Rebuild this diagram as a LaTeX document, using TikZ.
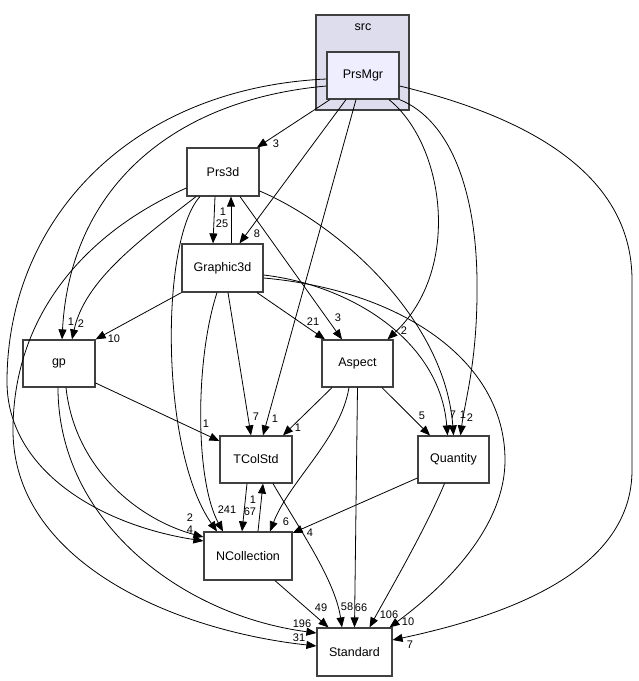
\documentclass[tikz,border=0pt]{standalone}
\usepackage{fontspec}
\setmainfont{Liberation Sans}
\usetikzlibrary{arrows.meta}
\definecolor{clusterfill}{HTML}{DDDDEE}
\definecolor{mainfill}{HTML}{EEEEFF}
\definecolor{boxline}{HTML}{404040}
\begin{document}
\begin{tikzpicture}[x=1pt,y=-1pt,
    box/.style={draw=boxline,line width=1.2pt,fill=white,inner sep=0pt,minimum height=47pt,font=\fontsize{12.5}{14}\selectfont},
    cluster/.style={draw=boxline,line width=1.2pt,fill=clusterfill,inner sep=0pt},
    dep/.style={->,line width=0.8pt},
    lbl/.style={inner sep=0pt,font=\fontsize{11}{12}\selectfont},
    >={Triangle[length=10pt,width=8pt]}
]
\useasboundingbox (0,0) rectangle (639,681);

% the src folder with PrsMgr inside
\node[cluster,minimum width=93pt,minimum height=95pt] (src) at (362.5,62.5) {};
\node[font=\fontsize{12.5}{14}\selectfont] (srctitle) at (363,27) {src};
\node[box,fill=mainfill,minimum width=72pt] (prsmgr) at (363,75.5) {PrsMgr};

\node[box,minimum width=72pt,minimum height=48pt] (prs3d) at (223,172) {Prs3d};
\node[box,minimum width=81pt,minimum height=48pt] (graphic3d) at (222.5,268) {Graphic3d};
\node[box,minimum width=72pt] (gp) at (59,363.5) {gp};
\node[box,minimum width=71pt] (aspect) at (357.5,363.5) {Aspect};
\node[box,minimum width=72pt] (tcolstd) at (256,459.5) {TColStd};
\node[box,minimum width=71pt] (quantity) at (453.5,459.5) {Quantity};
\node[box,minimum width=88pt,minimum height=48pt] (ncollection) at (248,556) {NCollection};
\node[box,minimum width=75pt,minimum height=48pt] (standard) at (354.5,652) {Standard};

% PrsMgr
\draw[dep] ([xshift=-33pt]prsmgr.south) -- ([xshift=34pt]prs3d.north);
\draw[dep] ([xshift=-17pt]prsmgr.south) -- ([xshift=17pt]graphic3d.north);
\draw[dep] ([xshift=-7pt]prsmgr.south) -- ([xshift=7pt]tcolstd.north);
\draw[dep] ([xshift=26pt]prsmgr.south) .. controls (445,145) and (462,270) .. ([xshift=30pt]aspect.north);
\draw[dep] (prsmgr.south east) .. controls (450,120) and (476,190) .. (477,280) .. controls (478,360) and (465,400) .. ([xshift=7pt]quantity.north);
\draw[dep] ([yshift=-10.5pt]prsmgr.east) .. controls (520,115) and (632,170) .. (632,280) -- (632,470) .. controls (632,570) and (510,615) .. ([yshift=12pt]standard.east);
\draw[dep] ([yshift=-10.5pt]prsmgr.west) .. controls (170,100) and (70,190) .. ([xshift=3pt]gp.north);
\draw[dep] ([yshift=-3.5pt]prsmgr.west) .. controls (130,88) and (8,220) .. (7,380) .. controls (6,470) and (100,525) .. ([yshift=15pt]ncollection.west);

% Prs3d
\draw[dep] ([xshift=-8pt]prs3d.south) -- ([xshift=-9.5pt]graphic3d.north);
\draw[dep] ([xshift=-27pt]prs3d.south) .. controls (140,240) and (85,280) .. ([xshift=13pt]gp.north);
\draw[dep] ([xshift=-23pt]prs3d.south) .. controls (160,240) and (160,450) .. ([xshift=-31pt]ncollection.north);
\draw[dep] ([xshift=17pt]prs3d.south) -- ([xshift=-15.5pt]aspect.north);
\draw[dep] ([yshift=-19pt]prs3d.east) .. controls (340,225) and (445,320) .. (quantity.north);
\draw[dep] ([yshift=-16pt]prs3d.west) .. controls (80,235) and (13,320) .. (13,430) .. controls (13,560) and (170,630) .. ([yshift=6pt]standard.west);

% Graphic3d
\draw[dep] ([xshift=8.5pt]graphic3d.north) -- ([xshift=8pt]prs3d.south);
\draw[dep] (graphic3d.south west) -- (gp.north east);
\draw[dep] ([xshift=-5.5pt]graphic3d.south) .. controls (195,360) and (195,480) .. ([xshift=-25pt]ncollection.north);
\draw[dep] ([xshift=5.5pt]graphic3d.south) -- ([xshift=-5pt]tcolstd.north);
\draw[dep] ([xshift=34.5pt]graphic3d.south) -- ([xshift=-32.5pt]aspect.north);
\draw[dep] ([yshift=-7pt]graphic3d.east) .. controls (350,285) and (440,340) .. ([xshift=-6pt]quantity.north);
\draw[dep] ([yshift=-10pt]graphic3d.east) .. controls (400,290) and (505,360) .. (505,460) .. controls (505,530) and (440,590) .. ([xshift=35pt]standard.north);

% gp
\draw[dep] ([yshift=-19.5pt]gp.east) -- ([yshift=18.5pt]tcolstd.west);
\draw[dep] ([xshift=7pt]gp.south) .. controls (75,470) and (140,520) .. ([yshift=19pt]ncollection.west);
\draw[dep] ([xshift=-1pt]gp.south) .. controls (58,520) and (180,615) .. ([yshift=19pt]standard.west);

% Aspect
\draw[dep] ([xshift=-25.5pt]aspect.south) -- ([xshift=27pt]tcolstd.north);
\draw[dep] ([xshift=24.5pt]aspect.south) -- ([xshift=-23.5pt]quantity.north);
\draw[dep] ([xshift=-8.5pt]aspect.south) .. controls (340,440) and (290,480) .. ([xshift=22pt]ncollection.north);
\draw[dep] (aspect.south) -- (standard.north);

% TColStd, Quantity, NCollection
\draw[dep] ([xshift=-9pt]tcolstd.south) -- ([xshift=-6pt]ncollection.north);
\draw[dep] ([xshift=10pt]ncollection.north) -- ([xshift=7pt]tcolstd.south);
\draw[dep] ([xshift=17pt]tcolstd.south) .. controls (300,530) and (335,580) .. ([xshift=-12.5pt]standard.north);
\draw[dep] ([yshift=-18.5pt]quantity.west) -- ([yshift=23pt]ncollection.east);
\draw[dep] ([xshift=-9pt]quantity.south) .. controls (425,530) and (390,590) .. ([xshift=15pt]standard.north);
\draw[dep] ([xshift=27pt]ncollection.south) -- ([xshift=-26pt]standard.north);

% counts
\node[lbl] (l1) at (276,144) {3};
\node[lbl] (l2) at (257,234) {8};
\node[lbl] (l3) at (275,419) {1};
\node[lbl] (l4) at (404,331) {2};
\node[lbl] (l5) at (470,418) {2};
\node[lbl] (l6) at (410,645) {7};
\node[lbl] (l7) at (71,322) {1};
\node[lbl] (l8) at (190,518) {2};
\node[lbl] (l9) at (222,224) {25};
\node[lbl] (l10) at (223,212) {1};
\node[lbl] (l11) at (81,324) {2};
\node[lbl] (l12) at (221,510) {2};
\node[lbl] (l13) at (338,318) {3};
\node[lbl] (l14) at (463,415) {1};
\node[lbl] (l15) at (299,638) {31};
\node[lbl] (l16) at (114,339) {10};
\node[lbl] (l17) at (230,510) {41};
\node[lbl] (l18) at (256,417) {7};
\node[lbl] (l19) at (313,322) {21};
\node[lbl] (l20) at (453,415) {7};
\node[lbl] (l21) at (408,622) {10};
\node[lbl] (l22) at (206,424) {1};
\node[lbl] (l23) at (190,530) {4};
\node[lbl] (l24) at (302,624) {196};
\node[lbl] (l25) at (298,428) {1};
\node[lbl] (l26) at (422,416) {5};
\node[lbl] (l27) at (286,522) {6};
\node[lbl] (l28) at (361,608) {66};
\node[lbl] (l29) at (250,512) {67};
\node[lbl] (l30) at (253,500) {1};
\node[lbl] (l31) at (347,607) {58};
\node[lbl] (l32) at (310,533) {4};
\node[lbl] (l33) at (389,615) {106};
\node[lbl] (l34) at (321,608) {49};
\end{tikzpicture}
\end{document}
